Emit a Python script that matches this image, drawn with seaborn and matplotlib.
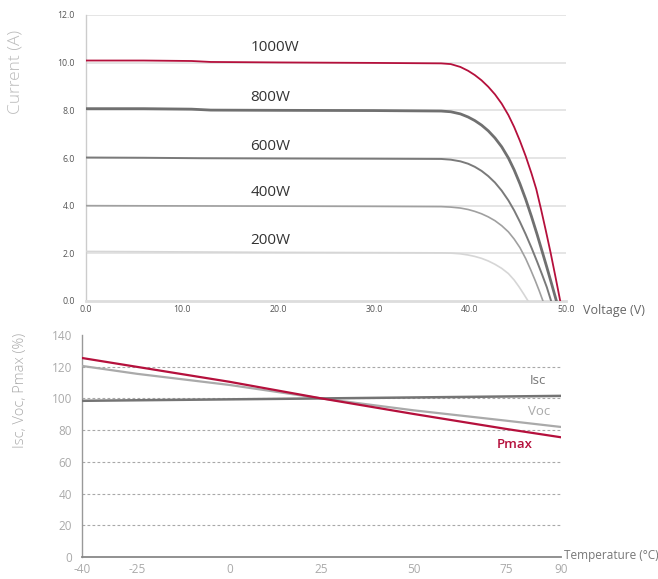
import matplotlib
matplotlib.use("Agg")
import matplotlib.pyplot as plt
import seaborn as sns
import pandas as pd

sns.set_style("white")
plt.rcParams['font.family'] = ['Open Sans', 'DejaVu Sans']

# ---------------- I-V curves (Voltage V, Current A) ----------------
v_1000 = [0, 6, 11, 13, 20, 30, 37.0, 38.0, 39.0, 39.8, 40.5, 41.2, 41.9, 42.6, 43.3, 44.0, 44.6,
          45.2, 45.8, 46.4, 46.9, 47.4, 47.9, 48.4, 48.9, 49.4]
i_1000 = [10.09, 10.09, 10.07, 10.03, 10.01, 9.99, 9.97, 9.94, 9.82, 9.66, 9.48, 9.26, 8.99, 8.67, 8.28,
          7.8, 7.3, 6.72, 6.08, 5.36, 4.7, 3.85, 2.95, 2.02, 1.02, 0]

v_800 = [0, 6, 11, 13, 20, 30, 37.0, 38.0, 39.0, 39.8, 40.5, 41.2, 41.9, 42.6, 43.3, 44.0, 44.6,
         45.2, 45.8, 46.4, 47.0, 47.5, 48.0, 48.5, 49.0]
i_800 = [8.07, 8.07, 8.05, 8.01, 8.0, 7.99, 7.97, 7.94, 7.85, 7.72, 7.57, 7.38, 7.14, 6.84, 6.47,
         6.0, 5.5, 4.92, 4.27, 3.55, 2.78, 2.1, 1.42, 0.72, 0]

v_600 = [0, 6, 12, 20, 30, 37.0, 38.0, 39.0, 39.8, 40.5, 41.2, 41.9, 42.6, 43.3, 44.0, 44.6,
         45.2, 45.8, 46.4, 47.0, 47.5, 48.0, 48.45]
i_600 = [6.02, 6.01, 5.99, 5.98, 5.97, 5.96, 5.93, 5.86, 5.76, 5.63, 5.46, 5.24, 4.97, 4.63, 4.22, 3.8,
         3.32, 2.8, 2.24, 1.64, 1.12, 0.58, 0]

v_400 = [0, 10, 20, 30, 37.0, 38.0, 39.0, 39.8, 40.5, 41.2, 41.9, 42.6, 43.3, 44.0, 44.6,
         45.2, 45.8, 46.3, 46.8, 47.2, 47.6]
i_400 = [4.0, 3.99, 3.98, 3.97, 3.96, 3.94, 3.9, 3.84, 3.76, 3.66, 3.53, 3.37, 3.16, 2.9, 2.6,
         2.24, 1.78, 1.33, 0.85, 0.44, 0]

v_200 = [0, 10, 20, 30, 37.0, 38.0, 39.0, 39.8, 40.5, 41.2, 41.9, 42.6, 43.3, 44.0, 44.6,
         45.1, 45.6, 46.05]
i_200 = [2.08, 2.06, 2.04, 2.03, 2.02, 2.01, 1.98, 1.93, 1.87, 1.79, 1.68, 1.54, 1.37, 1.15, 0.88,
         0.6, 0.29, 0]

iv_labels = ["1000W", "800W", "600W", "400W", "200W"]
iv_label_y = [10.65, 8.55, 6.5, 4.55, 2.55]
iv_yticks = [0, 2, 4, 6, 8, 10, 12]
iv_xticks = [0, 10, 20, 30, 40, 50]

# ---------------- Temperature characteristics (% vs °C) ----------------
t_isc = [-40, 25, 90]
isc = [98.5, 100, 101.6]
t_voc = [-40, -25, 0, 25, 50, 75, 90]
voc = [120.5, 115.5, 108.5, 100, 92.5, 86, 82]
t_pmax = [-40, 0, 25, 50, 75, 90]
pmax = [125.5, 110.5, 100, 90.2, 80.8, 75.5]
temp_xticks = [-40, -25, 0, 25, 50, 75, 90]
temp_yticks = [0, 20, 40, 60, 80, 100, 120, 140]

RED = "#b5103c"

fig = plt.figure(figsize=(6.58, 5.79), dpi=100)

# ---------------- Top chart ----------------
ax1 = fig.add_axes([86/658, 1-301/579, (566-86)/658, (301-15)/579])
curves = [
    (v_1000, i_1000, RED, 1.3),
    (v_800, i_800, "#707070", 2.0),
    (v_600, i_600, "#7a7a7a", 1.4),
    (v_400, i_400, "#a0a0a0", 1.2),
    (v_200, i_200, "#d6d6d6", 1.2),
]
for v, i, c, lw in curves:
    df = pd.DataFrame({"V": v, "I": i})
    sns.lineplot(data=df, x="V", y="I", ax=ax1, color=c, linewidth=lw,
                 estimator=None, sort=False, zorder=3)
ax1.set_xlim(0, 50)
ax1.set_ylim(0, 12)
ax1.set_xticks(iv_xticks)
ax1.set_xticklabels([f"{t:.1f}" for t in iv_xticks])
ax1.set_yticks(iv_yticks)
ax1.set_yticklabels([f"{t:.1f}" for t in iv_yticks])
ax1.tick_params(axis="both", length=0, labelsize=6.3, colors="#555555")
ax1.tick_params(axis="y", pad=8)
ax1.tick_params(axis="x", pad=3)
ax1.set_xlabel("")
ax1.set_ylabel("")
for y in iv_yticks[1:]:
    ax1.axhline(y, color="#e3e3e3", linewidth=1.3, zorder=1)
for s in ["top", "right"]:
    ax1.spines[s].set_visible(False)
ax1.spines["left"].set_color("#cccccc")
ax1.spines["left"].set_linewidth(1.0)
ax1.spines["bottom"].set_color("#dddddd")
ax1.spines["bottom"].set_linewidth(2.0)
for lab, y in zip(iv_labels, iv_label_y):
    ax1.text(17.1, y, lab, fontsize=11, color="#333333", ha="left", va="center")

fig.text(583/658, 1-311/579, "Voltage (V)", fontsize=9, color="#666666",
         ha="left", va="center")
fig.text(16/658, 1-71.5/579, "Current (A)", fontsize=12.5, color="#bbbbbb",
         rotation=90, ha="center", va="center", fontweight="light")

# ---------------- Bottom chart ----------------
ax2 = fig.add_axes([82/658, 1-557/579, (561-82)/658, (557-335)/579])
for y in temp_yticks[1:-1]:
    ax2.axhline(y, color="#a8a8a8", linewidth=0.8, linestyle=(0, (2.5, 2)), zorder=1)
sns.lineplot(x=t_voc, y=voc, ax=ax2, color="#aaaaaa", linewidth=1.6,
             estimator=None, sort=False, zorder=3)
sns.lineplot(x=t_isc, y=isc, ax=ax2, color="#747474", linewidth=1.8,
             estimator=None, sort=False, zorder=4)
sns.lineplot(x=t_pmax, y=pmax, ax=ax2, color=RED, linewidth=1.6,
             estimator=None, sort=False, zorder=5)
ax2.set_xlim(-40, 90)
ax2.set_ylim(0, 140)
ax2.set_xticks(temp_xticks)
ax2.set_xticklabels([str(t) for t in temp_xticks])
ax2.set_yticks(temp_yticks)
ax2.set_yticklabels([str(t) for t in temp_yticks])
ax2.set_xticks(temp_xticks[1:-1], minor=True)
ax2.tick_params(axis="x", which="major", length=0, pad=4.5, labelsize=8.5, colors="#aaaaaa")
ax2.tick_params(axis="x", which="minor", length=4.5, width=1.0, color="#888888", direction="out")
ax2.tick_params(axis="y", length=0, pad=7, labelsize=8.5, colors="#aaaaaa")
ax2.set_xlabel("")
ax2.set_ylabel("")
for s in ["top", "right"]:
    ax2.spines[s].set_visible(False)
ax2.spines["left"].set_color("#999999")
ax2.spines["left"].set_linewidth(1.0)
ax2.spines["bottom"].set_color("#888888")
ax2.spines["bottom"].set_linewidth(1.3)

ax2.text(81.6, 111.5, "Isc", fontsize=9.5, color="#777777", ha="left", va="center")
ax2.text(81.0, 92, "Voc", fontsize=9.5, color="#aaaaaa", ha="left", va="center")
ax2.text(72.6, 71, "Pmax", fontsize=9.5, color=RED, ha="left", va="center",
         fontweight="semibold")

fig.text(564/658, 1-556/579, "Temperature (°C)", fontsize=8.5, color="#777777",
         ha="left", va="center")
fig.text(21/658, 1-390/579, "Isc, Voc, Pmax (%)", fontsize=10.5, color="#aaaaaa",
         rotation=90, ha="center", va="center", fontweight="light")

fig.savefig("out.png", dpi=100)
